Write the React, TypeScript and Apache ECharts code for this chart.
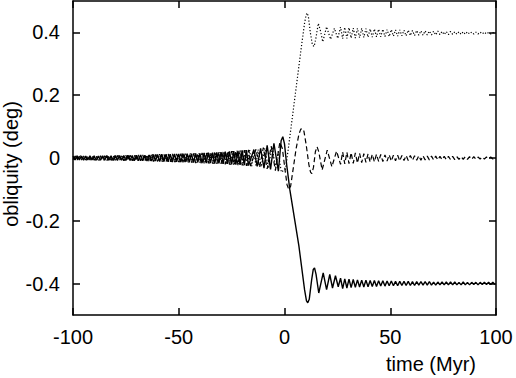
import React, { useEffect, useRef } from "react";
import * as echarts from "echarts";

// ---- axis ticks ----
const xTicks = [-100, -50, 0, 50, 100];
const yTicks = [-0.4, -0.2, 0, 0.2, 0.4];
const xTitle = "time (Myr)";
const yTitle = "obliquity (deg)";

// ---- solid series (ends near -0.4) ----
const solidEarlyStart = -100; // Myr, step 1
const solidEarly = [
  0.006, -0.006, 0.007, -0.006, 0.006, -0.007, 0.006, -0.006, 0.007, -0.006,
  0.007, -0.007, 0.006, -0.007, 0.007, -0.007, 0.008, -0.007, 0.007, -0.008,
  0.008, -0.008, 0.008, -0.007, 0.008, -0.008, 0.009, -0.008, 0.008, -0.009,
  0.009, -0.009, 0.010, -0.009, 0.009, -0.010, 0.010, -0.010, 0.011, -0.010,
  0.011, -0.011, 0.012, -0.011, 0.012, -0.012, 0.012, -0.013, 0.013, -0.012,
  0.013, -0.013, 0.014, -0.013, 0.014, -0.014, 0.014, -0.015, 0.015, -0.014,
  0.015, -0.016, 0.016, -0.016, 0.017, -0.016, 0.017, -0.018, 0.018, -0.017,
  0.019, -0.019, 0.020, -0.019, 0.021, -0.020, 0.022, -0.021, 0.023, -0.022,
  0.024, -0.023, 0.025, -0.024,
];
const solidMid: [number, number][] = [
  [-14.5, 0.026], [-12.9, -0.027], [-11.3, 0.031], [-9.7, -0.032], [-8.2, 0.040],
  [-6.6, -0.036], [-5.0, 0.047], [-2.9, -0.042], [-1.6, 0.055], [-0.8, 0.068],
  [0.0, 0.045], [1.0, -0.02], [2.5, -0.10], [6.8, -0.28], [9.5, -0.42],
  [10.4, -0.455], [11.0, -0.461], [11.7, -0.45], [12.8, -0.39], [13.6, -0.355],
  [14.2, -0.35], [14.9, -0.37], [16.2, -0.43], [18.3, -0.366], [19.9, -0.419],
  [21.4, -0.371], [22.7, -0.414], [24.1, -0.375], [25.4, -0.41],
];
const solidLateStart = 26.5; // Myr, step 1
const solidLate = [
  -0.383, -0.416, -0.385, -0.414, -0.386, -0.413, -0.387, -0.412, -0.388, -0.411,
  -0.389, -0.411, -0.389, -0.410, -0.390, -0.409, -0.390, -0.409, -0.391, -0.408,
  -0.391, -0.408, -0.392, -0.407, -0.392, -0.407, -0.393, -0.407, -0.393, -0.406,
  -0.393, -0.406, -0.393, -0.406, -0.394, -0.406, -0.394, -0.405, -0.394, -0.405,
  -0.394, -0.405, -0.394, -0.405, -0.395, -0.405, -0.395, -0.404, -0.395, -0.404,
  -0.395, -0.404, -0.395, -0.404, -0.395, -0.404, -0.396, -0.404, -0.395, -0.404,
  -0.396, -0.404, -0.396, -0.403, -0.396, -0.404, -0.396, -0.403, -0.396, -0.403,
  -0.396, -0.403, -0.396, -0.403,
];

// ---- dashed series (ends near 0) ----
const dashedEarlyStart = -100;
const dashedEarly = [
  -0.005, 0.006, -0.006, 0.005, -0.006, 0.006, -0.006, 0.007, -0.006, 0.006,
  -0.007, 0.006, -0.007, 0.007, -0.007, 0.007, -0.008, 0.007, -0.007, 0.008,
  -0.008, 0.008, -0.008, 0.008, -0.009, 0.008, -0.008, 0.009, -0.009, 0.009,
  -0.009, 0.010, -0.009, 0.010, -0.010, 0.010, -0.011, 0.010, -0.011, 0.011,
  -0.011, 0.012, -0.011, 0.012, -0.012, 0.013, -0.012, 0.013, -0.013, 0.013,
  -0.013, 0.014, -0.014, 0.014, -0.015, 0.014, -0.015, 0.015, -0.016, 0.015,
  -0.016, 0.016, -0.017, 0.017, -0.017, 0.018, -0.018, 0.018, -0.019, 0.019,
  -0.019, 0.020, -0.020, 0.021, -0.021, 0.022, -0.022, 0.023, -0.023, 0.024,
  -0.024, 0.025, -0.025, 0.026, -0.026,
];
const dashedMid: [number, number][] = [
  [-13.5, 0.028], [-11.8, -0.030], [-10.0, 0.033], [-8.2, -0.035], [-6.3, 0.038],
  [-4.3, -0.040], [-2.2, 0.050], [-1.0, 0.030], [0.3, -0.04], [1.2, -0.085],
  [2.0, -0.100], [2.9, -0.09], [4.2, -0.03], [5.5, 0.03], [6.8, 0.075],
  [7.7, 0.092], [8.4, 0.094], [9.2, 0.085], [10.3, 0.04], [11.5, -0.02],
  [12.3, -0.045], [12.9, -0.05], [13.7, -0.03], [14.6, 0.02], [15.4, 0.036],
  [16.2, 0.02], [17.8, -0.038], [20.2, 0.025], [22.4, -0.028], [24.6, 0.022],
];
const dashedLateStart = 26.5;
const dashedLate = [
  -0.020, 0.019, -0.019, 0.018, -0.018, 0.017, -0.017, 0.016, -0.016, 0.015,
  -0.015, 0.014, -0.014, 0.013, -0.013, 0.012, -0.012, 0.012, -0.011, 0.011,
  -0.011, 0.010, -0.010, 0.010, -0.010, 0.009, -0.009, 0.009, -0.009, 0.008,
  -0.008, 0.008, -0.008, 0.008, -0.007, 0.007, -0.007, 0.007, -0.007, 0.007,
  -0.006, 0.006, -0.006, 0.006, -0.006, 0.006, -0.006, 0.005, -0.005, 0.005,
  -0.005, 0.005, -0.005, 0.005, -0.005, 0.004, -0.004, 0.004, -0.004, 0.004,
  -0.004, 0.004, -0.004, 0.004, -0.004, 0.003, -0.003, 0.003, -0.003, 0.003,
  -0.003, 0.003, -0.003, 0.003,
];

// ---- dotted series (ends near +0.4) ----
const dottedEarlyStart = -99.5;
const dottedEarly = [
  -0.006, 0.006, -0.006, 0.007, -0.006, 0.006, -0.007, 0.006, -0.006, 0.007,
  -0.007, 0.007, -0.007, 0.006, -0.007, 0.008, -0.007, 0.007, -0.008, 0.007,
  -0.008, 0.008, -0.007, 0.008, -0.008, 0.009, -0.008, 0.008, -0.009, 0.008,
  -0.009, 0.009, -0.010, 0.009, -0.010, 0.010, -0.010, 0.011, -0.010, 0.011,
  -0.011, 0.011, -0.012, 0.012, -0.011, 0.012, -0.013, 0.012, -0.013, 0.013,
  -0.013, 0.014, -0.013, 0.014, -0.014, 0.015, -0.014, 0.015, -0.015, 0.015,
  -0.016, 0.016, -0.016, 0.017, -0.017, 0.017, -0.018, 0.018, -0.018, 0.019,
  -0.019, 0.020, -0.020, 0.021, -0.021, 0.022, -0.022, 0.023, -0.023, 0.024,
  -0.024, 0.025, -0.025, 0.026, -0.026, 0.027, -0.027, 0.027,
];
const dottedMid: [number, number][] = [
  [-11.0, -0.028], [-9.3, 0.031], [-7.6, -0.033], [-5.9, 0.036], [-4.2, -0.030],
  [-3.0, 0.020], [-1.5, -0.045], [0.5, -0.035], [2.0, 0.04], [4.1, 0.15],
  [6.0, 0.25], [8.0, 0.355], [9.5, 0.43], [10.2, 0.455], [10.7, 0.462],
  [11.3, 0.45], [12.2, 0.40], [13.2, 0.36], [14.0, 0.355], [14.8, 0.38],
  [16.0, 0.429], [17.0, 0.405], [18.1, 0.37], [19.9, 0.418], [21.8, 0.378],
  [23.6, 0.413], [25.2, 0.381],
];
const dottedLateStart = 26.5;
const dottedLate = [
  0.417, 0.380, 0.416, 0.381, 0.415, 0.382, 0.414, 0.382, 0.413, 0.383,
  0.413, 0.384, 0.412, 0.385, 0.411, 0.385, 0.411, 0.386, 0.410, 0.386,
  0.410, 0.387, 0.409, 0.387, 0.409, 0.388, 0.408, 0.388, 0.408, 0.389,
  0.407, 0.389, 0.407, 0.390, 0.406, 0.390, 0.406, 0.391, 0.405, 0.391,
  0.405, 0.392, 0.404, 0.392, 0.404, 0.392, 0.404, 0.393, 0.403, 0.393,
  0.403, 0.393, 0.403, 0.394, 0.402, 0.394, 0.402, 0.394, 0.402, 0.394,
  0.402, 0.395, 0.401, 0.395, 0.401, 0.395, 0.401, 0.395, 0.401, 0.395,
  0.400, 0.395, 0.400, 0.395,
];

const STEP = 1; // Myr between samples in the uniformly sampled runs

function build(
  early: number[],
  earlyStart: number,
  mid: [number, number][],
  late: number[],
  lateStart: number
): [number, number][] {
  const out: [number, number][] = [];
  early.forEach((v, i) => out.push([earlyStart + i * STEP, v]));
  mid.forEach((p) => out.push(p));
  late.forEach((v, i) => out.push([lateStart + i * STEP, v]));
  return out;
}

const FONT = "'Liberation Sans', Arial, Helvetica, sans-serif";

export default function App() {
  const ref = useRef<HTMLDivElement>(null);
  useEffect(() => {
    if (!ref.current) return;
    const chart = echarts.init(ref.current, undefined, { renderer: "svg" });
    const axisLine = { onZero: false, lineStyle: { color: "#000", width: 1.5 } };
    const tickStyle = { inside: true, length: 7, lineStyle: { color: "#000", width: 1.5 } };
    const fmt = (v: number) => String(Math.round(v * 10) / 10);
    chart.setOption({
      animation: false,
      backgroundColor: "#fff",
      grid: { left: 73, right: 20, top: 1, bottom: 63 },
      xAxis: [
        {
          type: "value",
          min: -100,
          max: 100,
          interval: 50,
          position: "bottom",
          axisLine,
          axisTick: { ...tickStyle, customValues: xTicks },
          axisLabel: {
            customValues: xTicks,
            fontSize: 20,
            color: "#000",
            fontFamily: FONT,
            margin: 12,
          },
          splitLine: { show: false },
        },
        {
          type: "value",
          min: -100,
          max: 100,
          interval: 50,
          position: "top",
          axisLine,
          axisTick: { ...tickStyle, customValues: xTicks },
          axisLabel: { show: false },
          splitLine: { show: false },
        },
      ],
      yAxis: [
        {
          type: "value",
          min: -0.5,
          max: 0.5,
          position: "left",
          axisLine,
          axisTick: { ...tickStyle, customValues: yTicks },
          axisLabel: {
            customValues: yTicks,
            formatter: fmt,
            fontSize: 20,
            color: "#000",
            fontFamily: FONT,
            margin: 13,
          },
          splitLine: { show: false },
        },
        {
          type: "value",
          min: -0.5,
          max: 0.5,
          position: "right",
          axisLine,
          axisTick: { ...tickStyle, customValues: yTicks },
          axisLabel: { show: false },
          splitLine: { show: false },
        },
      ],
      series: [
        {
          type: "line",
          name: "dashed",
          data: build(dashedEarly, dashedEarlyStart, dashedMid, dashedLate, dashedLateStart),
          showSymbol: false,
          symbol: "none",
          lineStyle: { color: "#000", width: 1.2, type: [5, 3] },
        },
        {
          type: "line",
          name: "dotted",
          data: build(dottedEarly, dottedEarlyStart, dottedMid, dottedLate, dottedLateStart),
          showSymbol: false,
          symbol: "none",
          lineStyle: { color: "#000", width: 1.2, type: [1.2, 2] },
        },
        {
          type: "line",
          name: "solid",
          data: build(solidEarly, solidEarlyStart, solidMid, solidLate, solidLateStart),
          showSymbol: false,
          symbol: "none",
          lineStyle: { color: "#000", width: 1.4 },
        },
      ],
      graphic: [
        {
          type: "text",
          x: 431,
          y: 364,
          style: {
            text: xTitle,
            fontSize: 20,
            fontFamily: FONT,
            fill: "#000",
            align: "center",
            verticalAlign: "middle",
          },
        },
        {
          type: "text",
          x: 11,
          y: 164,
          rotation: Math.PI / 2,
          style: {
            text: yTitle,
            fontSize: 20,
            fontFamily: FONT,
            fill: "#000",
            align: "center",
            verticalAlign: "middle",
          },
        },
      ],
    });
    return () => chart.dispose();
  }, []);
  return (
    <div
      ref={ref}
      style={{ position: "fixed", left: 0, top: 0, width: 516, height: 378 }}
    />
  );
}
